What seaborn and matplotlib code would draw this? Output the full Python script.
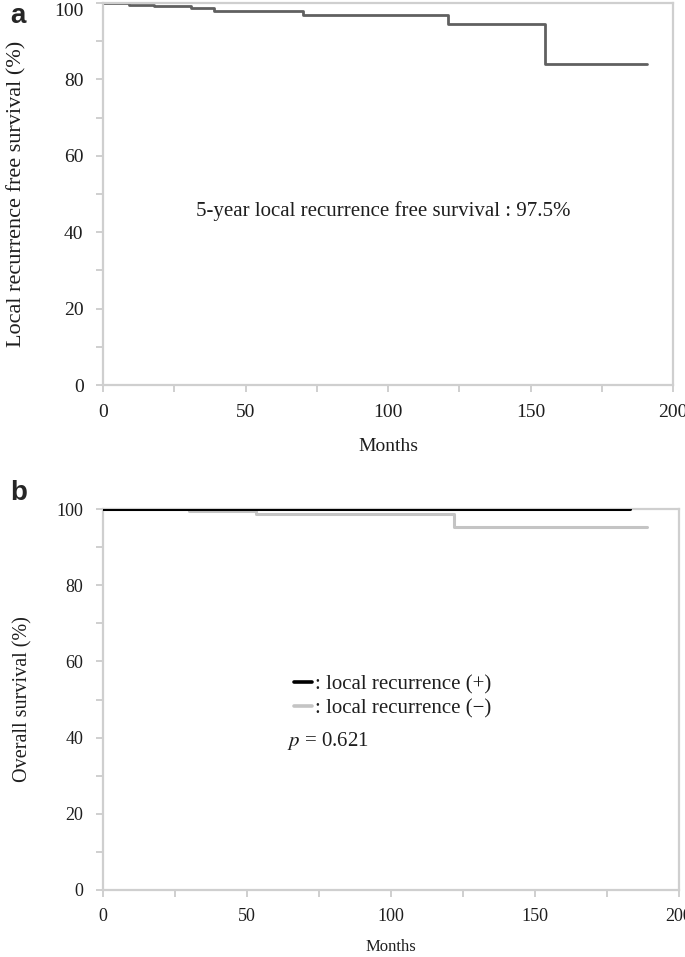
import matplotlib
matplotlib.use("Agg")
import matplotlib.pyplot as plt
import seaborn as sns
import pandas as pd
from matplotlib.ticker import MultipleLocator

# ---- data ----
lrfs_months = [0, 9, 18, 31, 39, 70, 121, 155, 191]
lrfs_surv = [100, 99.6, 99.1, 98.6, 97.9, 96.9, 94.6, 84.1, 84.1]

os_pos_months = [0, 183]
os_pos_surv = [100, 100]

os_neg_months = [0, 30, 53, 122, 189]
os_neg_surv = [100, 99.6, 98.6, 95.2, 95.2]

x_ticks = [0, 50, 100, 150, 200]
y_ticks = [0, 20, 40, 60, 80, 100]

annot_a = "5-year local recurrence free survival : 97.5%"
leg_pos = ": local recurrence (+)"
leg_neg = ": local recurrence (\u2212)"
p_text = "$p$ = 0.621"

sns.set_style("white")
plt.rcParams["font.family"] = ["Liberation Serif", "DejaVu Serif"]
plt.rcParams["mathtext.fontset"] = "stix"

spine_c = "#cfcfcf"
txt_c = "#1e1e1e"

fig = plt.figure(figsize=(6.85, 9.57), dpi=100)
W, H = 685, 957


def make_ax(l, r, t, b):
    return fig.add_axes([l / W, 1 - b / H, (r - l) / W, (b - t) / H])


def style(ax, lab):
    ax.set_xlim(0, 200)
    ax.set_ylim(0, 100)
    ax.set_xticks(x_ticks)
    ax.set_yticks(y_ticks)
    ax.xaxis.set_minor_locator(MultipleLocator(25))
    ax.yaxis.set_minor_locator(MultipleLocator(10))
    for s in ax.spines.values():
        s.set_visible(True)
        s.set_color(spine_c)
        s.set_linewidth(1.6)
    ax.tick_params(axis="both", which="both", direction="out", length=5,
                   width=1.4, color=spine_c, labelsize=lab, labelcolor=txt_c,
                   left=True, bottom=True)


# ---- panel a ----
ax1 = make_ax(103, 673, 3, 385)
df_a = pd.DataFrame({"Months": lrfs_months, "Surv": lrfs_surv})
sns.lineplot(data=df_a, x="Months", y="Surv", ax=ax1, drawstyle="steps-post",
             color="#606060", linewidth=2.0, estimator=None)
style(ax1, 14)
ax1.tick_params(axis="x", which="major", pad=9)
ax1.tick_params(axis="y", which="major", pad=9)
ax1.get_yticklabels()[-1].set_va("top")
ax1.set_xlabel("Months", fontsize=14, labelpad=12, color=txt_c)
ax1.set_ylabel("Local recurrence free survival (%)", fontsize=16, color=txt_c)
ax1.yaxis.set_label_coords(-0.135, 0.5)
ax1.text(98.5, 45.5, annot_a, ha="center", va="center", fontsize=15, color=txt_c)
fig.text(10 / W, 1 - 16 / H, "a", family="Liberation Sans", fontweight="bold",
         fontsize=20, ha="left", va="center")

# ---- panel b ----
ax2 = make_ax(103, 679, 509, 890)
df_pos = pd.DataFrame({"Months": os_pos_months, "Surv": os_pos_surv})
df_neg = pd.DataFrame({"Months": os_neg_months, "Surv": os_neg_surv})
sns.lineplot(data=df_pos, x="Months", y="Surv", ax=ax2, drawstyle="steps-post",
             color="#000000", linewidth=2.2, estimator=None, label=leg_pos, zorder=4)
sns.lineplot(data=df_neg, x="Months", y="Surv", ax=ax2, drawstyle="steps-post",
             color="#c4c4c4", linewidth=2.2, estimator=None, label=leg_neg, zorder=3)
style(ax2, 13)
ax2.tick_params(axis="x", which="major", pad=8)
ax2.tick_params(axis="y", which="major", pad=9)
ax2.set_xlabel("Months", fontsize=12, labelpad=10, color=txt_c)
ax2.set_ylabel("Overall survival (%)", fontsize=14.5, color=txt_c)
ax2.yaxis.set_label_coords(-0.123, 0.5)

leg = ax2.legend(loc="upper left", bbox_to_anchor=((294 - 103) / 576, (890 - 675) / 381),
                 frameon=False, fontsize=15, handlelength=0.85, handletextpad=0.15,
                 labelspacing=0.22, borderpad=0, borderaxespad=0)
for t in leg.get_texts():
    t.set_color(txt_c)
for h in leg.get_lines():
    h.set_linewidth(2.6)

ax2.text(64, 39.0, p_text, color=txt_c, fontsize=15, ha="left", va="center")

fig.text(10 / W, 1 - 493 / H, "b", family="Liberation Sans", fontweight="bold",
         fontsize=20, ha="left", va="center")

fig.savefig("out.png", dpi=100)
